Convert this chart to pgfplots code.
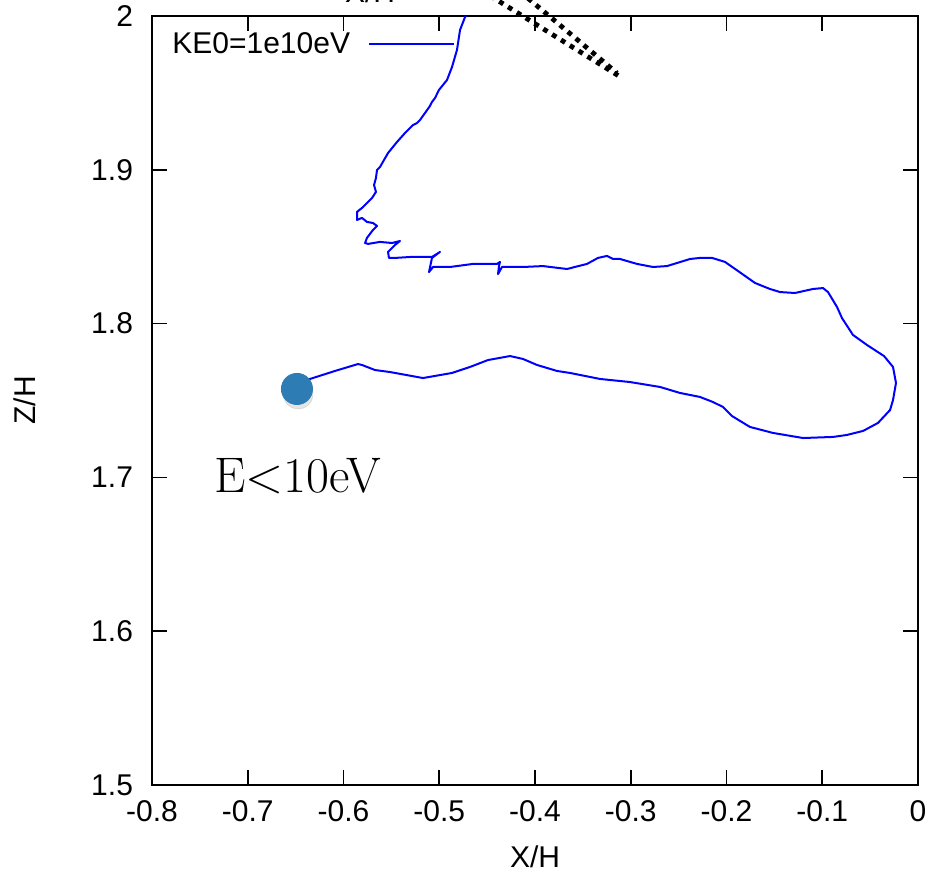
\documentclass[border=0pt]{standalone}
\usepackage{fontspec}
\setsansfont{Liberation Sans}
\usepackage{pgfplots}
\pgfplotsset{compat=1.18}

\definecolor{dotblue}{RGB}{46,124,180}

\begin{document}
\begin{tikzpicture}
\begin{axis}[
name=ax,
scale only axis,
width=383pt, height=384.5pt,
xmin=-0.8, xmax=0, ymin=1.5, ymax=2,
clip=false,
axis line style={line width=1pt},
tick align=inside,
major tick length=7.5pt,
every tick/.style={black, line width=0.8pt},
xtick={-0.8,-0.7,-0.6,-0.5,-0.4,-0.3,-0.2,-0.1,0},
ytick={1.5,1.6,1.7,1.8,1.9,2},
tick label style={font={\sffamily\fontsize{15}{18}\selectfont}},
/pgf/number format/assume math mode=true,
/pgf/number format/fixed,
xticklabel style={yshift=-4pt},
yticklabel style={xshift=-6pt},
xlabel={X/H}, ylabel={Z/H},
every axis x label/.style={at={(rel axis cs:0.5,0)}, yshift=-36pt, anchor=center,
  font={\sffamily\fontsize{15}{18}\selectfont}},
every axis y label/.style={at={(rel axis cs:0,0.5)}, xshift=-63.5pt, rotate=90, anchor=center,
  font={\sffamily\fontsize{15}{18}\selectfont}},
legend style={at={(0,1)}, anchor=north west, xshift=10pt, yshift=-8pt,
  draw=none, fill=none, inner sep=0pt, column sep=9pt,
  font={\sffamily\fontsize{15}{18}\selectfont}, nodes={inner sep=0pt}},
legend plot pos=right,
legend cell align=left,
legend image code/.code={\draw[#1] (0pt,0pt) -- (42.5pt,0pt);},
]

% dotted lines from the neighbouring panel
\addplot [forget plot, black, line width=2.4pt, dash pattern=on 2.4pt off 2.8pt]
coordinates {(-0.4650,2.0202) (-0.3091,1.9597)};
\addplot [forget plot, black, line width=2.4pt, dash pattern=on 2.4pt off 2.8pt]
coordinates {(-0.4239,2.0202) (-0.3144,1.9629)};

% trajectory
\addplot [blue, line width=1pt, line join=round]
table {%
-0.6402 1.7627
-0.6350 1.7640
-0.6089 1.7692
-0.5849 1.7737
-0.5807 1.7731
-0.5671 1.7698
-0.5514 1.7685
-0.5170 1.7646
-0.4867 1.7679
-0.4679 1.7718
-0.4491 1.7763
-0.4261 1.7789
-0.4125 1.7770
-0.3979 1.7731
-0.3770 1.7692
-0.3634 1.7679
-0.3321 1.7640
-0.3008 1.7620
-0.2695 1.7588
-0.2486 1.7549
-0.2277 1.7523
-0.2141 1.7490
-0.2037 1.7458
-0.1943 1.7399
-0.1755 1.7328
-0.1514 1.7289
-0.1201 1.7256
-0.0888 1.7263
-0.0742 1.7276
-0.0574 1.7302
-0.0418 1.7354
-0.0292 1.7438
-0.0261 1.7503
-0.0230 1.7614
-0.0261 1.7718
-0.0355 1.7789
-0.0533 1.7861
-0.0679 1.7926
-0.0794 1.8036
-0.0846 1.8108
-0.0940 1.8205
-0.0992 1.8231
-0.1097 1.8225
-0.1285 1.8199
-0.1441 1.8205
-0.1546 1.8225
-0.1702 1.8264
-0.1880 1.8342
-0.2016 1.8401
-0.2151 1.8427
-0.2277 1.8427
-0.2381 1.8420
-0.2517 1.8394
-0.2621 1.8374
-0.2768 1.8368
-0.2935 1.8388
-0.3112 1.8420
-0.3185 1.8420
-0.3248 1.8440
-0.3342 1.8427
-0.3457 1.8388
-0.3666 1.8355
-0.3917 1.8374
-0.4125 1.8368
-0.4345 1.8368
-0.4386 1.8322
-0.4376 1.8374
-0.4366 1.8401
-0.4397 1.8388
-0.4648 1.8388
-0.4888 1.8368
-0.5065 1.8368
-0.5107 1.8335
-0.5076 1.8427
-0.4992 1.8466
-0.5076 1.8433
-0.5305 1.8433
-0.5462 1.8427
-0.5525 1.8427
-0.5535 1.8466
-0.5462 1.8511
-0.5410 1.8537
-0.5493 1.8524
-0.5619 1.8531
-0.5744 1.8518
-0.5775 1.8524
-0.5755 1.8557
-0.5692 1.8609
-0.5650 1.8635
-0.5692 1.8654
-0.5755 1.8661
-0.5807 1.8687
-0.5859 1.8674
-0.5859 1.8726
-0.5807 1.8752
-0.5702 1.8817
-0.5661 1.8856
-0.5681 1.8901
-0.5661 1.8947
-0.5650 1.8999
-0.5619 1.9018
-0.5535 1.9109
-0.5441 1.9181
-0.5358 1.9239
-0.5305 1.9272
-0.5274 1.9291
-0.5232 1.9304
-0.5201 1.9324
-0.5149 1.9369
-0.5097 1.9415
-0.5076 1.9441
-0.5044 1.9467
-0.5003 1.9519
-0.4919 1.9584
-0.4867 1.9668
-0.4815 1.9779
-0.4783 1.9909
-0.4731 1.9993
-0.4721 2.0000
};
\addlegendentry{KE0=1e10eV}

% start point with a soft shadow below it
\addplot [forget plot, only marks, mark=*, color=black!40, opacity=0.25, mark size=7.4pt,
  mark options={draw=black!40, fill=black!40, xshift=0.6pt, yshift=-2.6pt}]
coordinates {(-0.6486,1.7575)};
\addplot [forget plot, only marks, mark=*, color=dotblue, mark size=7.8pt,
  mark options={draw=dotblue, fill=dotblue}]
coordinates {(-0.6486,1.7575)};

\node[anchor=base, font={\fontsize{25}{29}\selectfont}] at (axis cs:-0.6480,1.6899) {E<10eV};
\node[anchor=base, font={\sffamily\fontsize{15}{18}\selectfont}] at (axis cs:-0.5723,2.0085) {X/H};
\end{axis}
\pgfresetboundingbox
\useasboundingbox ([shift={(-76pt,-45pt)}]ax.south west) rectangle ([shift={(7.5pt,8pt)}]ax.north east);
\end{tikzpicture}
\end{document}
